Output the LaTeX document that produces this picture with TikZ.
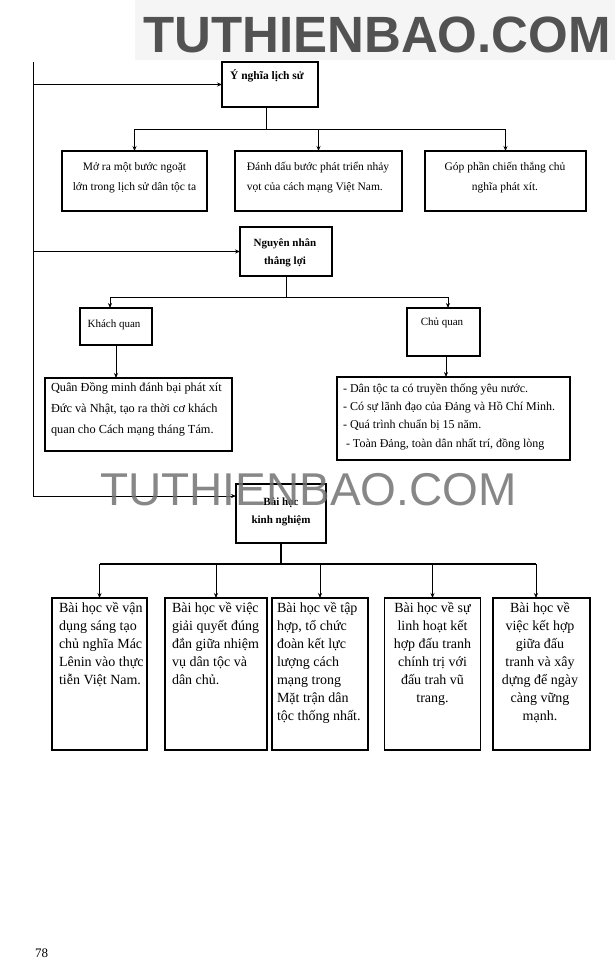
\documentclass[tikz,border=0pt]{standalone}
\usepackage{fontspec}
\setmainfont{Liberation Serif}
\newfontfamily\wmfont{Liberation Sans}
\usetikzlibrary{arrows.meta}
\newcommand{\fs}[2]{\fontsize{#1}{#2}\selectfont}
\begin{document}
\begin{tikzpicture}[x=1pt,y=-1pt,
  box/.style={draw, line width=1.4pt, inner sep=0pt, outer sep=0pt},
  hbox/.style={box, line width=2pt},
  conn/.style={line width=0.8pt},
  arr/.style={conn, -{Stealth[length=5pt,width=4pt]}},
  txt/.style={inner sep=0pt, outer sep=0pt},
  wm/.style={inner sep=0pt, anchor=base west}]
\useasboundingbox (0,0) rectangle (615,980);
\fill[white] (0,0) rectangle (615,980);
\fill[black!4] (135,0) rectangle (615,60);
% top watermark
\node[wm, font=\wmfont\bfseries\fs{51}{51}, text=black!68] (wmtop) at (143,52) {TUTHIENBAO.COM};

% ---- boxes ----
\node[hbox, minimum width=96pt, minimum height=45pt] (yn) at (270,84.5) {};
\node[txt, font=\bfseries\fs{11.5}{13}] (ynt) at (267,76) {Ý nghĩa lịch sử};

\node[box, minimum width=145pt, minimum height=60pt] (r1a) at (134.5,181) {};
\node[txt, align=center, font=\fs{11.5}{20}] (r1at) at (134.5,178) {Mở ra một bước ngoặt\\lớn trong lịch sử dân tộc ta};
\node[box, minimum width=167pt, minimum height=60pt] (r1b) at (318.5,181) {};
\node[txt, align=left, font=\fs{11.5}{20}] (r1bt) at (318,178) {Đánh dấu bước phát triển nhảy\\vọt của cách mạng Việt Nam.};
\node[box, minimum width=161pt, minimum height=60pt] (r1c) at (505.5,181) {};
\node[txt, align=center, font=\fs{11.5}{20}] (r1ct) at (505,178) {Góp phần chiến thắng chủ\\nghĩa phát xít.};

\node[hbox, minimum width=92pt, minimum height=49pt] (nn) at (286,251.5) {};
\node[txt, align=center, font=\bfseries\fs{11}{18}] (nnt) at (285,253) {Nguyên nhân\\thắng lợi};

\node[box, minimum width=72pt, minimum height=37pt] (kq) at (116,326.5) {};
\node[txt, font=\fs{11}{13}] (kqt) at (114,325) {Khách quan};
\node[box, minimum width=73pt, minimum height=48pt] (cq) at (443.5,332) {};
\node[txt, font=\fs{11}{13}] (cqt) at (442,323) {Chủ quan};

\node[box, minimum width=187pt, minimum height=73pt] (kql) at (138.5,414.5) {};
\node[txt, align=left, anchor=north west, font=\fs{12.3}{21}] (kqlt) at (51,383) {Quân Đồng minh đánh bại phát xít\\Đức và Nhật, tạo ra thời cơ khách\\quan cho Cách mạng tháng Tám.};
\node[box, minimum width=233pt, minimum height=83pt] (cql) at (453.5,418.5) {};
\node[txt, align=left, anchor=north west, font=\fs{12}{18.3}] (cqlt) at (343,383.5) {- Dân tộc ta có truyền thống yêu nước.\\- Có sự lãnh đạo của Đảng và Hồ Chí Minh.\\- Quá trình chuẩn bị 15 năm.\\\ - Toàn Đảng, toàn dân nhất trí, đồng lòng};

\node[hbox, minimum width=90pt, minimum height=59pt] (bh) at (281,513.5) {};
\node[txt, align=center, font=\bfseries\fs{11}{18}] (bht) at (281,512) {Bài học\\kinh nghiệm};

\node[box, minimum width=95pt, minimum height=152pt] (b1) at (99.5,674) {};
\node[txt, align=left, anchor=north west, font=\fs{14}{18}] (b1t) at (59,602) {Bài học về vận\\dụng sáng tạo\\chủ nghĩa Mác\\Lênin vào thực\\tiễn Việt Nam.};
\node[box, minimum width=102pt, minimum height=152pt] (b2) at (216,674) {};
\node[txt, align=left, anchor=north west, font=\fs{14}{18}] (b2t) at (172,602) {Bài học về việc\\giải quyết đúng\\đắn giữa nhiệm\\vụ dân tộc và\\dân chủ.};
\node[box, minimum width=96pt, minimum height=152pt] (b3) at (320,674) {};
\node[txt, align=left, anchor=north west, font=\fs{14}{18}] (b3t) at (277,602) {Bài học về tập\\hợp, tổ chức\\đoàn kết lực\\lượng cách\\mạng trong\\Mặt trận dân\\tộc thống nhất.};
\node[box, minimum width=96pt, minimum height=152pt] (b4) at (432.5,674) {};
\node[txt, align=center, anchor=north, font=\fs{14}{18}] (b4t) at (432.5,602) {Bài học về sự\\linh hoạt kết\\hợp đấu tranh\\chính trị với\\đấu trah vũ\\trang.};
\node[box, minimum width=97pt, minimum height=152pt] (b5) at (541.5,674) {};
\node[txt, align=center, anchor=north, font=\fs{14}{18}] (b5t) at (540,602) {Bài học về\\việc kết hợp\\giữa đấu\\tranh và xây\\dựng để ngày\\càng vững\\mạnh.};

% ---- left spine ----
\coordinate (ltop) at (33,62);
\coordinate (lbot) at (33,496);
\coordinate (la) at (33,84.5);
\coordinate (lb) at (33,251.5);
\draw[conn] (ltop) -- (lbot);
\draw[arr] (la) -- (la -| yn.west);
\draw[arr] (lb) -- (lb -| nn.west);
\draw[arr] (lbot) -- (lbot -| bh.west);

% ---- tree 1 ----
\coordinate (bus1) at (266,129);
\draw[conn] (yn.south -| bus1) -- (bus1);
\draw[conn] (r1a.north |- bus1) -- (r1c.north |- bus1);
\draw[arr] (r1a.north |- bus1) -- (r1a.north);
\draw[arr] (r1b.north |- bus1) -- (r1b.north);
\draw[arr] (r1c.north |- bus1) -- (r1c.north);

% ---- tree 2 ----
\coordinate (bus2) at (286,297);
\coordinate (kqa) at (110,297);
\coordinate (cqa) at (448,297);
\draw[conn] (nn.south) -- (bus2);
\draw[conn] (kqa) -- (cqa);
\draw[arr] (kqa) -- (kqa |- kq.north);
\draw[arr] (cqa) -- (cqa |- cq.north);
\coordinate (kqb) at (116,345);
\coordinate (cqb) at (446,356);
\draw[arr] (kqb) -- (kqb |- kql.north);
\draw[arr] (cqb) -- (cqb |- cql.north);

% ---- tree 3 ----
\coordinate (bus3) at (281,564);
\coordinate (b5a) at (536,564);
\draw[line width=1.4pt] (bh.south) -- (bus3);
\draw[line width=1.2pt] (b1.north |- bus3) -- (b5a);
\foreach \b in {b1,b2,b3,b4} \draw[arr] (\b.north |- bus3) -- (\b.north);
\draw[arr] (b5a) -- (b5a |- b5.north);

% middle watermark and page number
\node[wm, font=\wmfont\fs{46}{46}, text=black!55, opacity=0.85] (wmmid) at (100,505) {TUTHIENBAO.COM};
\node[wm, font=\fs{13}{13}] (pg) at (35,957) {78};
\end{tikzpicture}
\end{document}
